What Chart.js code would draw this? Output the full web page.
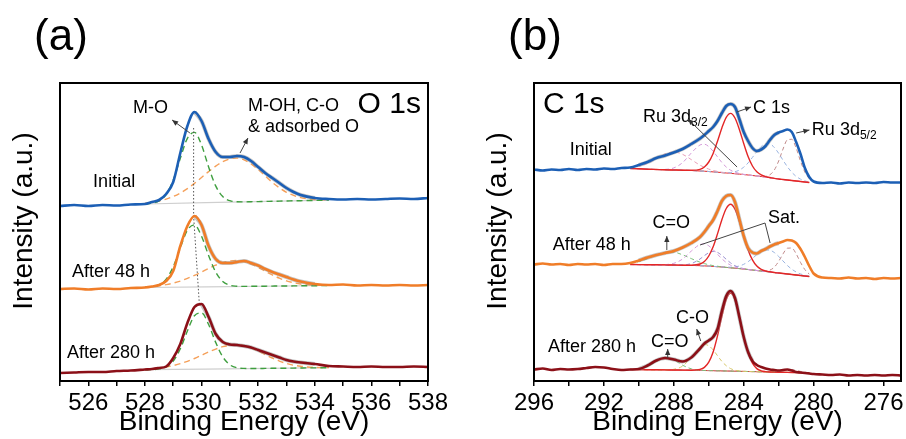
<!DOCTYPE html>
<html>
<head>
<meta charset="utf-8">
<title>XPS O 1s / C 1s</title>
<script src="https://cdn.jsdelivr.net/npm/chart.js@4"></script>
<style>
  body { margin: 0; background: #fff; }
  #wrap { position: relative; width: 906px; height: 439px; }
  canvas { position: absolute; top: 0; }
</style>
</head>
<body>
<div id="wrap">
  <canvas id="pa" width="450" height="439" style="left:0"></canvas>
  <canvas id="pb" width="453" height="439" style="left:453px"></canvas>
</div>
<script>
const FONT = '"Liberation Sans", Arial, sans-serif';

// ---------- (a) O 1s ----------
const beA = [525, 525.5, 526, 526.5, 527, 527.5,
  528, 528.25, 528.5, 528.75, 529, 529.25, 529.5, 529.75, 530, 530.25, 530.5, 530.75,
  531, 531.25, 531.5, 531.75, 532, 532.25, 532.5, 532.75, 533, 533.25, 533.5,
  534, 534.5, 535, 535.5, 536, 536.5, 537, 537.5, 538];
const o1sInitial = [176, 177, 176, 177, 176.5, 177.5,
  178, 180, 182, 188, 200, 229, 256, 270, 261, 243, 230, 225, 225, 226, 225, 221, 215, 209, 204, 199, 194, 190, 187,
  184, 183, 182.5, 183, 182.5, 183, 183.5, 183, 184];
const o1s48h = [93, 93.5, 92.5, 93.5, 93, 94,
  94.5, 95.5, 97, 101, 111, 136, 156, 166, 157, 136, 123, 119, 119, 120, 121, 119, 116.5, 113, 110, 107.5, 105, 102.5, 100.5,
  98, 97, 97.5, 96.5, 97, 96.5, 97, 96.5, 97];
const o1s280h = [9, 9.5, 10, 10, 11, 11.5,
  12.5, 13, 14, 15.5, 24, 38, 59, 75, 78, 65, 48, 40, 37.5, 37, 36, 34.5, 32, 29.5, 27, 24.5, 22, 20.5, 19.5,
  18, 16, 15.5, 15, 15.5, 15, 15, 15.5, 15];

// fitted components, 528 - 534.5 eV
const beFitA = [528, 528.25, 528.5, 528.75, 529, 529.25, 529.5, 529.75, 530, 530.25, 530.5, 530.75,
  531, 531.25, 531.5, 531.75, 532, 532.25, 532.5, 532.75, 533, 533.25, 533.5, 533.75, 534, 534.25, 534.5];
const moInitial = [178.1, 178.8, 181, 187.5, 202, 223.6, 243.7, 249.6, 237, 215, 196.1, 185.4, 181.3, 180.2,
  180.1, 180.3, 180.4, 180.6, 180.7, 180.9, 181, 181.2, 181.3, 181.5, 181.6, 181.8, 181.9];
const ohInitial = [178.9, 179.7, 181, 182.9, 185.5, 189, 193.4, 198.6, 204.5, 210.4, 215.9, 220.3, 223.1, 224,
  222.2, 218.1, 212.4, 206, 199.6, 194.2, 189.7, 186.6, 184.4, 183.2, 182.5, 182.2, 182.1];
const mo48h = [94.6, 95.1, 97.1, 102.8, 115.3, 134.3, 151.9, 157.1, 145.8, 126.5, 109.9, 100.5, 96.7, 95.8,
  95.6, 95.7, 95.7, 95.8, 95.9, 96, 96, 96.1, 96.2, 96.3, 96.3, 96.4, 96.5];
const oh48h = [95, 95.5, 96.3, 97.4, 98.9, 100.9, 103.6, 106.6, 110, 113.5, 116.8, 119.4, 120.9, 121.5,
  120.4, 118, 114.6, 110.8, 107.1, 103.8, 101.1, 99.3, 98, 97.3, 96.8, 96.6, 96.6];
const mo280h = [12.3, 12.4, 13.1, 15.1, 20.9, 33.2, 51, 66.3, 69.1, 57.5, 39.6, 25.1, 17.2, 14.3,
  13.6, 13.5, 13.5, 13.6, 13.7, 13.8, 13.8, 13.9, 14, 14.1, 14.1, 14.2, 14.3];
const oh280h = [12.8, 13.2, 14, 14.9, 16.4, 18.3, 20.7, 23.5, 26.7, 30, 32.9, 35.3, 36.8, 37.3,
  36.3, 34, 30.9, 27.4, 24, 20.9, 18.5, 16.8, 15.7, 15, 14.6, 14.4, 14.4];
const beBgA = [528, 534.5];
const bgInitialA = [178, 181.9];
const bg48hA = [94.5, 96.5];
const bg280hA = [12.3, 14.3];
// M-O peak position guide
const peakE = [529.72, 529.72, 529.92];
const peakH = [254, 166, 79];

// ---------- (b) C 1s ----------
const beB = [296, 295.5, 295, 294.5, 294, 293.5, 293, 292.5, 292, 291.5, 291, 290.5, 290, 289.5, 289, 288.5, 288, 287.5, 287, 286.5,
  286.25, 286, 285.75, 285.5, 285.25, 285, 284.75, 284.5, 284.25, 284, 283.75, 283.5, 283.25, 283, 282.75, 282.5, 282.25,
  282, 281.75, 281.5, 281.25, 281, 280.75, 280.5, 280.25, 280,
  279.5, 279, 278.5, 278, 277.5, 277, 276.5, 276, 275.5, 275];
const c1sInitial = [212.5, 211.5, 212.5, 212, 213, 212, 213, 212.5, 213.5, 213, 214, 214.5, 217, 220, 224, 226.5, 229.5, 233, 238, 243.5,
  247, 251, 255, 261, 269, 276, 278, 275, 263, 250, 241, 234, 231, 232.5, 236, 242, 247,
  249.5, 251, 252.5, 250, 240, 228, 214, 205, 200.5,
  199, 199.5, 198.5, 199.5, 199, 199.5, 199, 200, 199.5, 199.5];
const c1s48h = [117.5, 118.5, 117.5, 118, 117, 118, 117.5, 118, 117, 118, 118, 119, 121.5, 124.5, 127, 129, 131, 134.5, 139, 145,
  150, 156, 162, 171, 181, 186, 187, 180, 163, 146, 134, 129.5, 128.5, 131, 133, 135.5, 137.5,
  139, 140.5, 142, 141.5, 139, 133, 125, 116, 108.5,
  104.5, 104, 103.5, 104.5, 103.5, 104, 103, 104, 103.5, 104];
const c1s280h = [12.5, 13.5, 12, 13, 12.5, 13, 14, 15, 14.5, 13, 12, 12.5, 13, 16.5, 21.5, 24, 22.5, 20.5, 24.5, 33.5,
  38.5, 41.5, 45, 53, 71, 86, 91, 84, 65, 45, 30, 21, 17, 15, 13.5, 12.5, 12,
  11.5, 12, 12.5, 11.5, 10, 9.5, 9, 8.5, 8,
  7.5, 7, 7.5, 6.5, 7, 6.5, 7, 6.5, 7, 6.5];

// fitted components, 290.5 - 280.25 eV
const beFitB = [290.5, 290, 289.5, 289, 288.5, 288, 287.5, 287, 286.5,
  286.25, 286, 285.75, 285.5, 285.25, 285, 284.75, 284.5, 284.25, 284, 283.75, 283.5, 283.25, 283,
  282.75, 282.5, 282.25, 282, 281.75, 281.5, 281.25, 281, 280.75, 280.5, 280.25];

const bgInitialB = [213.5, 213.2, 212.8, 212.5, 212.2, 212, 211.8, 211.5, 211, 210.8, 210.5, 210.1, 209.8, 209.4, 209, 208.6, 208.3,
  207.9, 207.5, 207, 206.5, 206, 205.5, 204.9, 204.3, 203.6, 203, 202.5, 202, 201.5, 201, 200.5, 200, 199.5];
const fitC1sInitial = [213.5, 213.2, 212.8, 212.5, 212.2, 212, 211.8, 211.7, 212.6, 215, 220, 228.6, 240.8, 254.1, 264.7, 268.6, 264,
  252.6, 238.5, 225.5, 216, 210.2, 207.1, 205.4, 204.5, 203.6, 203, 202.5, 202, 201.5, 201, 200.5, 200, 199.5];
const ru32Initial = [213.5, 213.2, 212.8, 212.5, 212.6, 214.1, 219.3, 229, 237, 237.8, 235.4, 230.7, 225.1, 219.5, 215, 211.8, 209.8,
  208.5, 207.7, 207, 206.5, 206, 205.5, 204.9, 204.3, 203.6, 203, 202.5, 202, 201.5, 201, 200.5, 200, 199.5];
const satInitial = [214.3, 215.6, 218.6, 223.4, 228.1, 230, 227.7, 222.4, 216.8, 214.7, 212.9, 211.5, 210.6, 209.8, 209.2, 208.6, 208.3,
  207.9, 207.5, 207, 206.5, 206, 205.5, 204.9, 204.3, 203.6, 203, 202.5, 202, 201.5, 201, 200.5, 200, 199.5];
const ruSatInitial = [213.5, 213.2, 212.8, 212.5, 212.2, 212, 211.8, 211.5, 211, 210.8, 210.5, 210.1, 209.8, 209.4, 209.4, 209.5, 210.3,
  211.9, 214.8, 219.1, 224.6, 230.4, 235.5, 238.3, 238, 234.5, 228.7, 221.8, 215.2, 209.7, 205.6, 202.9, 201.1, 199.9];
const ru52Initial = [213.5, 213.2, 212.8, 212.5, 212.2, 212, 211.8, 211.5, 211, 210.8, 210.5, 210.1, 209.8, 209.4, 209, 208.6, 208.3,
  207.9, 207.5, 207, 206.5, 206, 205.7, 205.7, 207.3, 211.9, 221, 233, 242.2, 242.7, 233.9, 220.9, 209.9, 203.2];

const bg48hB = [117.5, 117.4, 117.3, 117.2, 117.1, 117, 116.8, 116.6, 116.3, 116.1, 115.9, 115.6, 115.3, 115, 114.6, 114.2, 113.8,
  113.4, 113, 112.5, 112, 111.5, 111, 110.5, 110, 109.5, 109, 108.5, 108, 107.5, 107, 106.5, 106, 105.5];
const fitC1s48h = [117.5, 117.4, 117.3, 117.2, 117.1, 117, 116.8, 116.8, 118, 120.5, 126, 135.2, 148.1, 162.3, 173.5, 177.7, 172.7,
  160.7, 145.8, 132.1, 122.1, 115.9, 112.7, 111, 110.2, 109.5, 109, 108.5, 108, 107.5, 107, 106.5, 106, 105.5];
const ru32_48h = [117.5, 117.4, 117.3, 117.2, 117.4, 118.7, 122.9, 130.9, 137.5, 138.1, 136.2, 132.4, 127.8, 123.2, 119.5, 116.8, 115,
  113.9, 113.2, 112.5, 112, 111.5, 111, 110.5, 110, 109.5, 109, 108.5, 108, 107.5, 107, 106.5, 106, 105.5];
const sat48h = [117.5, 117.4, 117.3, 117.2, 117.1, 117, 117.1, 118.4, 123, 126.4, 129.3, 130.6, 129.6, 126.6, 122.7, 119.1, 116.3,
  114.5, 113.4, 112.5, 112, 111.5, 111, 110.5, 110, 109.5, 109, 108.5, 108, 107.5, 107, 106.5, 106, 105.5];
const cdo48h = [118.7, 120.4, 123.3, 126.9, 129.6, 129.7, 127.2, 123.4, 119.8, 118.4, 117.3, 116.4, 115.8, 115, 114.6, 114.2, 113.8,
  113.4, 113, 112.5, 112, 111.5, 111, 110.5, 110, 109.5, 109, 108.5, 108, 107.5, 107, 106.5, 106, 105.5];
const ruSat48h = [117.5, 117.4, 117.3, 117.2, 117.1, 117, 116.8, 116.6, 116.3, 116.1, 115.9, 115.6, 115.3, 115, 114.9, 114.8, 115.1,
  116, 117.7, 120.3, 123.7, 127.3, 130.4, 132.1, 131.8, 129.5, 125.6, 121, 116.5, 112.8, 110, 108.1, 106.7, 105.8];
const ru52_48h = [117.5, 117.4, 117.3, 117.2, 117.1, 117, 116.8, 116.6, 116.3, 116.1, 115.9, 115.6, 115.3, 115, 114.6, 114.2, 113.8,
  113.4, 113, 112.5, 112, 111.5, 111.1, 111, 111.9, 114.8, 120.6, 128.1, 133.8, 134, 128.2, 119.6, 112.4, 107.9];

const bg280hB = [12.5, 12.4, 12.3, 12.2, 12.1, 12, 11.9, 11.8, 11.6, 11.5, 11.4, 11.3, 11.2, 11.1, 11, 10.9, 10.8,
  10.7, 10.6, 10.5, 10.4, 10.3, 10.2, 10.1, 10, 9.9, 9.8, 9.7, 9.6, 9.5, 9.4, 9.3, 9.2, 9.1];
const fitC1s280h = [12.5, 12.4, 12.3, 12.2, 12.1, 12, 11.9, 11.8, 12.6, 14.6, 19.8, 30, 46.2, 65.7, 82.4, 88.9, 82.2,
  65.3, 45.6, 29.2, 18.8, 13.4, 11.2, 10.4, 10, 9.9, 9.8, 9.7, 9.6, 9.5, 9.4, 9.3, 9.2, 9.1];
const co280h = [12.5, 12.4, 12.3, 12.2, 12.1, 12.7, 15.9, 24.6, 35.1, 37.5, 36.3, 32.1, 26.3, 20.6, 16.3, 13.4, 11.8,
  11.1, 10.6, 10.5, 10.4, 10.3, 10.2, 10.1, 10, 9.9, 9.8, 9.7, 9.6, 9.5, 9.4, 9.3, 9.2, 9.1];
const cdo280h = [12.6, 13.1, 15.4, 20.2, 24, 22, 16.8, 13.2, 11.8, 11.5, 11.4, 11.3, 11.2, 11.1, 11, 10.9, 10.8,
  10.7, 10.6, 10.5, 10.4, 10.3, 10.2, 10.1, 10, 9.9, 9.8, 9.7, 9.6, 9.5, 9.4, 9.3, 9.2, 9.1];
const ru52_280h = [12.5, 12.4, 12.3, 12.2, 12.1, 12, 11.9, 11.8, 11.6, 11.5, 11.4, 11.3, 11.2, 11.1, 11, 10.9, 10.8,
  10.7, 10.6, 10.5, 10.4, 10.3, 10.2, 10.1, 10, 10.6, 11.1, 11.9, 12.5, 12.4, 11.6, 10.6, 9.8, 9.1];

// colours
const BLUE = '#1c5fb5', ORANGE = '#f07d28', WINE = '#8c1018';

// helpers
const pts = (xs, ys) => xs.map((x, i) => ({ x, y: ys[i] }));

function curve(xs, ys, color, width, dash) {
  return {
    data: pts(xs, ys), showLine: true, pointRadius: 0, fill: false,
    borderColor: color, borderWidth: width, borderDash: dash || [],
    cubicInterpolationMode: 'monotone'
  };
}

// raw points inside the fitted window, a faint grey band under the spectrum
function raw(xs, ys, lo, hi) {
  const k = xs.map((x, i) => i).filter(i => xs[i] >= lo && xs[i] <= hi);
  return curve(k.map(i => xs[i]), k.map(i => ys[i]), 'rgba(150,150,150,0.55)', 4);
}

function arrow(ctx, x0, y0, x1, y1, head) {
  ctx.beginPath();
  ctx.moveTo(x0, y0);
  ctx.lineTo(x1, y1);
  ctx.stroke();
  if (!head) return;
  const a = Math.atan2(y1 - y0, x1 - x0), L = 6, W = 2.6;
  ctx.beginPath();
  ctx.moveTo(x1, y1);
  ctx.lineTo(x1 - L * Math.cos(a) + W * Math.sin(a), y1 - L * Math.sin(a) - W * Math.cos(a));
  ctx.lineTo(x1 - L * Math.cos(a) - W * Math.sin(a), y1 - L * Math.sin(a) + W * Math.cos(a));
  ctx.closePath();
  ctx.fill();
}

// frame, axis titles, panel letter and peak labels
const annotate = {
  id: 'annotate',
  afterDraw(chart, args, opts) {
    const { ctx, chartArea: a, scales: { x, y } } = chart;
    ctx.save();
    ctx.strokeStyle = '#000';
    ctx.lineWidth = 2;
    ctx.strokeRect(a.left, a.top, a.right - a.left, a.bottom - a.top);

    ctx.fillStyle = '#000';
    ctx.textBaseline = 'middle';
    ctx.textAlign = 'center';
    ctx.font = '44px ' + FONT;
    ctx.fillText(opts.panel, a.left + 1, 38);
    ctx.font = '28px ' + FONT;
    ctx.fillText('Binding Energy (eV)', (a.left + a.right) / 2, 422);
    ctx.save();
    ctx.translate(a.left - 36, 221);
    ctx.rotate(-Math.PI / 2);
    ctx.fillText('Intensity (a.u.)', 0, 0);
    ctx.restore();

    for (const t of opts.labels) {
      const px = x.getPixelForValue(t.e), py = y.getPixelForValue(t.h);
      ctx.font = (t.size || 18) + 'px ' + FONT;
      ctx.textAlign = t.align || 'left';
      ctx.fillText(t.text, px, py);
      if (t.sub) {
        const w = ctx.measureText(t.text).width;
        ctx.font = '12px ' + FONT;
        ctx.textAlign = 'left';
        ctx.fillText(t.sub, px + w, py + 6);
      }
    }

    ctx.strokeStyle = '#444';
    ctx.fillStyle = '#333';
    ctx.lineWidth = 1;
    for (const r of opts.arrows) {
      arrow(ctx, x.getPixelForValue(r.from[0]), y.getPixelForValue(r.from[1]),
        x.getPixelForValue(r.to[0]), y.getPixelForValue(r.to[1]), r.head);
    }
    ctx.restore();
  }
};

function options(min, max, reverse, every, padLeft, padRight, notes) {
  return {
    responsive: false,
    animation: false,
    devicePixelRatio: 1,
    layout: { padding: { left: padLeft, right: padRight, top: 83, bottom: 0 } },
    plugins: { legend: { display: false }, tooltip: { enabled: false }, annotate: notes },
    scales: {
      x: {
        type: 'linear', min, max, reverse,
        afterFit: s => { s.height = 58; s.paddingLeft = 0; s.paddingRight = 0; },
        border: { display: false },
        grid: { drawOnChartArea: false, drawTicks: true, tickLength: 5, color: '#000', lineWidth: 1.5 },
        ticks: {
          stepSize: every / 2, includeBounds: false, autoSkip: false, maxRotation: 0, padding: 3,
          color: '#000', font: { family: FONT, size: 24 },
          callback: v => (v % every === 0 ? String(v) : '')
        }
      },
      y: { display: false, min: 1, max: 299 }
    }
  };
}

// ---------- chart (a) ----------
const GREEN_D = '#3f9f3f', ORANGE_D = '#f5a05a', GREY_BG = '#cfcfcf';
new Chart(document.getElementById('pa'), {
  type: 'scatter',
  data: {
    datasets: [
      curve(beA, o1sInitial, BLUE, 2.6),
      curve(beA, o1s48h, ORANGE, 2.6),
      curve(beA, o1s280h, WINE, 2.6),
      raw(beA, o1sInitial, 529.75, 534),
      raw(beA, o1s48h, 529.75, 534),
      raw(beA, o1s280h, 530, 534),
      Object.assign(curve(peakE, peakH, '#555', 1, [1.5, 2]), { cubicInterpolationMode: 'default', tension: 0 }),
      curve(beFitA, moInitial, GREEN_D, 1.4, [6, 4]),
      curve(beFitA, ohInitial, ORANGE_D, 1.4, [6, 4]),
      curve(beFitA, mo48h, GREEN_D, 1.4, [6, 4]),
      curve(beFitA, oh48h, ORANGE_D, 1.4, [6, 4]),
      curve(beFitA, mo280h, GREEN_D, 1.4, [6, 4]),
      curve(beFitA, oh280h, ORANGE_D, 1.4, [6, 4]),
      curve(beBgA, bgInitialA, GREY_BG, 1.2),
      curve(beBgA, bg48hA, GREY_BG, 1.2),
      curve(beBgA, bg280hA, GREY_BG, 1.2)
    ]
  },
  options: options(525, 538, false, 2, 60, 22, {
    panel: '(a)',
    labels: [
      { e: 528.2, h: 274, text: 'M-O', align: 'center' },
      { e: 531.64, h: 276, text: 'M-OH, C-O' },
      { e: 531.64, h: 255, text: '& adsorbed O' },
      { e: 537.75, h: 277, text: 'O 1s', size: 30, align: 'right' },
      { e: 526.17, h: 200, text: 'Initial' },
      { e: 525.42, h: 110, text: 'After 48 h' },
      { e: 525.25, h: 29, text: 'After 280 h' }
    ],
    arrows: [
      { from: [529.59, 249], to: [528.96, 262], head: true },
      { from: [531.36, 229], to: [531.64, 244], head: true }
    ]
  }),
  plugins: [annotate]
});

// ---------- chart (b) ----------
const RED = '#e32626';
const PINK_D = '#d49ad8', SAT_D = '#e8a0b8', PURPLE_D = '#9a8fd0', BLUE_D = '#9ab4e0',
  BROWN_D = '#c08a8a', GREEN_B = '#7cbf7c', OLIVE_D = '#d6c76a';
const dash = [4, 3];
new Chart(document.getElementById('pb'), {
  type: 'scatter',
  data: {
    datasets: [
      curve(beB, c1sInitial, BLUE, 2.6),
      curve(beB, c1s48h, ORANGE, 2.6),
      curve(beB, c1s280h, WINE, 2.6),
      raw(beB, c1sInitial, 282, 290),
      raw(beB, c1s48h, 282, 290),
      raw(beB, c1s280h, 283.5, 290),
      curve(beFitB, fitC1sInitial, RED, 1.4),
      curve(beFitB, fitC1s48h, RED, 1.4),
      curve(beFitB, fitC1s280h, RED, 1.4),
      curve(beFitB, ru32Initial, PINK_D, 1, dash),
      curve(beFitB, satInitial, SAT_D, 1, dash),
      curve(beFitB, ruSatInitial, BLUE_D, 1, dash),
      curve(beFitB, ru52Initial, BROWN_D, 1, dash),
      curve(beFitB, ru32_48h, PINK_D, 1, dash),
      curve(beFitB, sat48h, PURPLE_D, 1, dash),
      curve(beFitB, cdo48h, GREEN_B, 1, dash),
      curve(beFitB, ruSat48h, BLUE_D, 1, dash),
      curve(beFitB, ru52_48h, BROWN_D, 1, dash),
      curve(beFitB, co280h, OLIVE_D, 1, dash),
      curve(beFitB, cdo280h, GREEN_B, 1, dash),
      curve(beFitB, ru52_280h, BROWN_D, 1, dash),
      curve(beFitB, bgInitialB, RED, 1),
      curve(beFitB, bg48hB, RED, 1),
      curve(beFitB, bg280hB, RED, 1)
    ]
  },
  options: options(275, 296, true, 4, 81, 5, {
    panel: '(b)',
    labels: [
      { e: 295.49, h: 277, text: 'C 1s', size: 30 },
      { e: 289.76, h: 265, text: 'Ru 3d', sub: '3/2' },
      { e: 283.47, h: 274, text: 'C 1s' },
      { e: 280.1, h: 252, text: 'Ru 3d', sub: '5/2' },
      { e: 293.96, h: 232, text: 'Initial' },
      { e: 294.93, h: 137, text: 'After 48 h' },
      { e: 288.14, h: 159, text: 'C=O', align: 'center' },
      { e: 282.61, h: 164, text: 'Sat.' },
      { e: 295.2, h: 35, text: 'After 280 h' },
      { e: 288.23, h: 40, text: 'C=O', align: 'center' },
      { e: 286.93, h: 64, text: 'C-O', align: 'center' }
    ],
    arrows: [
      { from: [284.38, 215], to: [287.19, 263], head: true },
      { from: [284.4, 270], to: [283.58, 275], head: true },
      { from: [281.0, 249], to: [280.24, 252], head: true },
      { from: [288.4, 132], to: [288.4, 146], head: true },
      { from: [282.78, 159], to: [286.5, 137] },
      { from: [282.78, 159], to: [282.49, 139] },
      { from: [288.35, 24], to: [288.35, 33], head: true },
      { from: [286.46, 41], to: [286.69, 53], head: true }
    ]
  }),
  plugins: [annotate]
});
</script>
</body>
</html>
